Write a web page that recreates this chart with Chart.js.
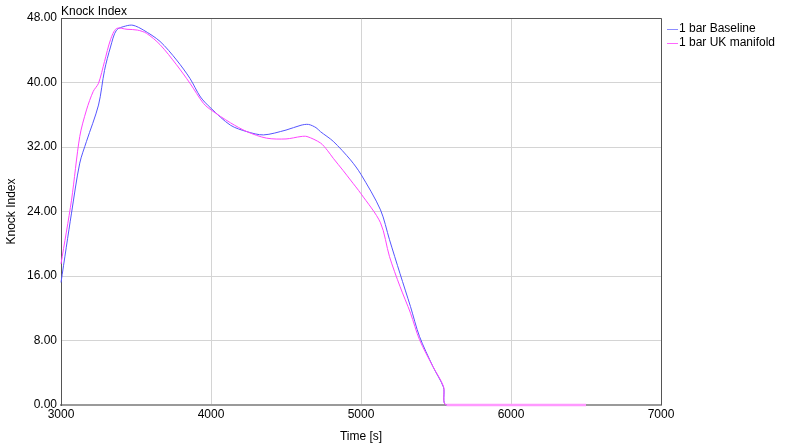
<!DOCTYPE html>
<html>
<head>
<meta charset="utf-8">
<script src="https://cdn.jsdelivr.net/npm/chart.js@4/dist/chart.umd.min.js"></script>
<style>
  html, body { margin: 0; padding: 0; background: #fff; }
  canvas { display: block; }
</style>
</head>
<body>
<canvas id="myChart" width="800" height="447"></canvas>
<script>
// time axis [s] and Knock Index readings for each run
const BASE_TIME = [3000, 3070, 3125, 3170, 3250, 3290, 3330, 3370, 3430, 3480, 3550, 3660, 3770, 3860, 3930, 4000,
    4130, 4240, 4350, 4500, 4600, 4650, 4700, 4730, 4815, 4930, 5000, 5130, 5190, 5260, 5330, 5390, 5480, 5550, 5570, 6500];
const BASE_KNOCK = [15.2, 23.8, 30.0, 32.7, 37.2, 41.5, 44.4, 46.5, 47.0, 47.1, 46.5, 45.1, 42.8, 40.5, 38.2, 36.8,
    34.7, 33.9, 33.5, 34.1, 34.7, 34.8, 34.4, 33.9, 32.7, 30.4, 28.6, 24.2, 20.5, 16.3, 12.2, 8.5, 4.75, 2.2, 0, 0];

const UK_TIME = [3000, 3070, 3125, 3170, 3215, 3250, 3290, 3330, 3370, 3440, 3510, 3570, 3660, 3770, 3860, 3950, 4000,
    4130, 4240, 4370, 4500, 4600, 4640, 4730, 4775, 4815, 4880, 4930, 5000, 5130, 5190, 5260, 5330, 5390, 5480, 5550, 5570, 6500];
const UK_KNOCK = [17.5, 25.4, 33.3, 36.6, 38.9, 39.9, 42.6, 45.3, 46.7, 46.6, 46.5, 46.1, 44.7, 42.2, 39.9, 37.4, 36.6,
    35.0, 33.9, 33.1, 33.0, 33.3, 33.3, 32.5, 31.6, 30.6, 29.1, 27.9, 26.2, 22.6, 18.4, 14.7, 11.4, 8.1, 4.75, 2.3, 0, 0];

const SERIES_NAMES = ["1 bar Baseline", "1 bar UK manifold"];
const SERIES_COLORS = ["#5555ff", "#ff44ff"];
const LEGEND_COLORS = ["#8c8cff", "#ff66ff"];
const Y_TICKS = [0, 8, 16, 24, 32, 40, 48];
const X_TICKS = [3000, 4000, 5000, 6000, 7000];

const FONT = "Liberation Sans, Arial, sans-serif";

/**
 * 時間配列と値配列を {x, y} の点列にまとめる
 */
function toPoints(times, values) {
    return times.map((t, i) => ({ x: t, y: values[i] }));
}

// 上と右の枠線、左上のタイトル、右側の凡例を描く
const framePlugin = {
    id: 'frame',
    afterDraw(chart) {
        const ctx = chart.ctx;
        const a = chart.chartArea;
        ctx.save();
        ctx.strokeStyle = '#555';
        ctx.lineWidth = 1;
        ctx.beginPath();
        ctx.moveTo(a.left, a.top + 0.5);
        ctx.lineTo(a.right + 0.5, a.top + 0.5);
        ctx.lineTo(a.right + 0.5, a.bottom);
        ctx.stroke();

        ctx.fillStyle = '#000';
        ctx.font = '12px ' + FONT;
        ctx.textBaseline = 'middle';
        ctx.textAlign = 'left';
        ctx.fillText('Knock Index', a.left, a.top - 6);

        SERIES_NAMES.forEach((name, i) => {
            const y = 29 + i * 14;
            ctx.strokeStyle = LEGEND_COLORS[i];
            ctx.lineWidth = 1;
            ctx.beginPath();
            ctx.moveTo(a.right + 6, y + 0.5);
            ctx.lineTo(a.right + 17, y + 0.5);
            ctx.stroke();
            ctx.fillText(name, a.right + 18, y);
        });
        ctx.restore();
    }
};

const ctx = document.getElementById('myChart').getContext('2d');
new Chart(ctx, {
    type: 'line',
    data: {
        datasets: [
            {
                label: SERIES_NAMES[0],
                data: toPoints(BASE_TIME, BASE_KNOCK),
                borderColor: SERIES_COLORS[0],
                borderWidth: 1,
                pointRadius: 0,
                tension: 0.3,
                clip: 3,
                order: 1
            },
            {
                label: SERIES_NAMES[1],
                data: toPoints(UK_TIME, UK_KNOCK),
                borderColor: SERIES_COLORS[1],
                borderWidth: 1,
                pointRadius: 0,
                tension: 0.3,
                clip: 3,
                order: 0,
                segment: {
                    borderColor: c => (c.p0.parsed.y === 0 && c.p1.parsed.y === 0) ? '#ff99ff' : undefined,
                    borderWidth: c => (c.p0.parsed.y === 0 && c.p1.parsed.y === 0) ? 2.5 : undefined
                }
            }
        ]
    },
    options: {
        responsive: false,
        animation: false,
        events: [],
        layout: { padding: { left: 0, right: 139, top: 18, bottom: 0 } },
        plugins: {
            legend: { display: false },
            tooltip: { enabled: false }
        },
        scales: {
            x: {
                type: 'linear',
                min: 3000,
                max: 7000,
                afterFit: s => { s.height = 42; },
                afterBuildTicks: s => { s.ticks = X_TICKS.map(v => ({ value: v })); },
                grid: { color: '#d4d4d4', drawTicks: false },
                border: { color: '#9a9a9a', width: 2 },
                ticks: {
                    color: '#000',
                    font: { family: FONT, size: 12 },
                    padding: 2,
                    maxRotation: 0,
                    callback: v => String(v)
                },
                title: {
                    display: true,
                    text: 'Time [s]',
                    color: '#000',
                    font: { family: FONT, size: 12 },
                    padding: { top: 0, bottom: 3 }
                }
            },
            y: {
                min: 0,
                max: 48,
                afterFit: s => { s.width = 61; },
                afterBuildTicks: s => { s.ticks = Y_TICKS.map(v => ({ value: v })); },
                grid: { color: '#d4d4d4', drawTicks: false },
                border: { color: '#555', width: 1 },
                ticks: {
                    color: '#000',
                    font: { family: FONT, size: 12 },
                    padding: 4,
                    callback: v => v.toFixed(2)
                },
                title: {
                    display: true,
                    text: 'Knock Index',
                    color: '#000',
                    font: { family: FONT, size: 12 },
                    padding: { top: 4, bottom: 0 }
                }
            }
        }
    },
    plugins: [framePlugin]
});
</script>
</body>
</html>
